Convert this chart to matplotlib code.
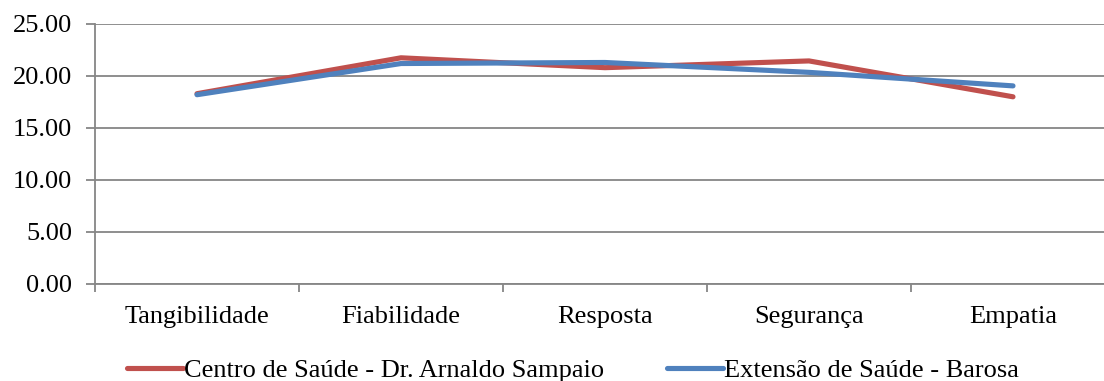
import numpy as np
import matplotlib
matplotlib.use("Agg")
from matplotlib import pyplot as plt
from matplotlib.ticker import FixedLocator

categories = ["Tangibilidade", "Fiabilidade", "Resposta", "Segurança", "Empatia"]
centro = [18.3, 21.75, 20.8, 21.45, 18.0]
barosa = [18.2, 21.2, 21.3, 20.35, 19.05]
series_names = ["Centro de Saúde - Dr. Arnaldo Sampaio", "Extensão de Saúde - Barosa"]
yticks = [0, 5, 10, 15, 20, 25]

plt.rcParams['font.family'] = ['Liberation Serif', 'DejaVu Serif']
grid_c = "#868686"

fig = plt.figure(figsize=(11.04, 3.81), dpi=100)
# axes spans x 95..1115 px, y 24..284 px
ax = fig.add_axes([95 / 1104, 1 - 284 / 381, 1020 / 1104, 260 / 381])

x = np.arange(len(categories))
ax.plot(x, centro, color="#C0504D", lw=3.7, solid_capstyle="round", label=series_names[0])
ax.plot(x, barosa, color="#4F81BD", lw=3.7, solid_capstyle="round", label=series_names[1])

ax.set_xlim(-0.5, len(categories) - 0.5)
ax.set_ylim(0, 25)
ax.set_yticks(yticks)
ax.set_yticklabels([f"{v:.2f}" for v in yticks])
ax.yaxis.grid(True, color=grid_c, lw=1.3)
ax.set_axisbelow(True)

ax.set_xticks(x)
ax.set_xticklabels(categories)
ax.xaxis.set_minor_locator(FixedLocator(np.arange(-0.5, len(categories), 1.0)))
ax.tick_params(axis="x", which="major", length=0, pad=16, labelsize=19)
ax.tick_params(axis="x", which="minor", length=6, width=1.3, color=grid_c)
ax.tick_params(axis="y", length=6.5, width=1.3, color=grid_c, labelsize=19, pad=10)

for s in ["top", "right"]:
    ax.spines[s].set_visible(False)
ax.spines["left"].set_color(grid_c)
ax.spines["left"].set_linewidth(1.3)
ax.spines["bottom"].set_color(grid_c)
ax.spines["bottom"].set_linewidth(1.3)

fig.legend(loc="center", bbox_to_anchor=(573 / 1104, 1 - 370 / 381), ncol=2,
           frameon=False, fontsize=19, handlelength=2.1, handletextpad=0.05,
           columnspacing=2.4, borderpad=0)

fig.savefig("out.png", dpi=100)
